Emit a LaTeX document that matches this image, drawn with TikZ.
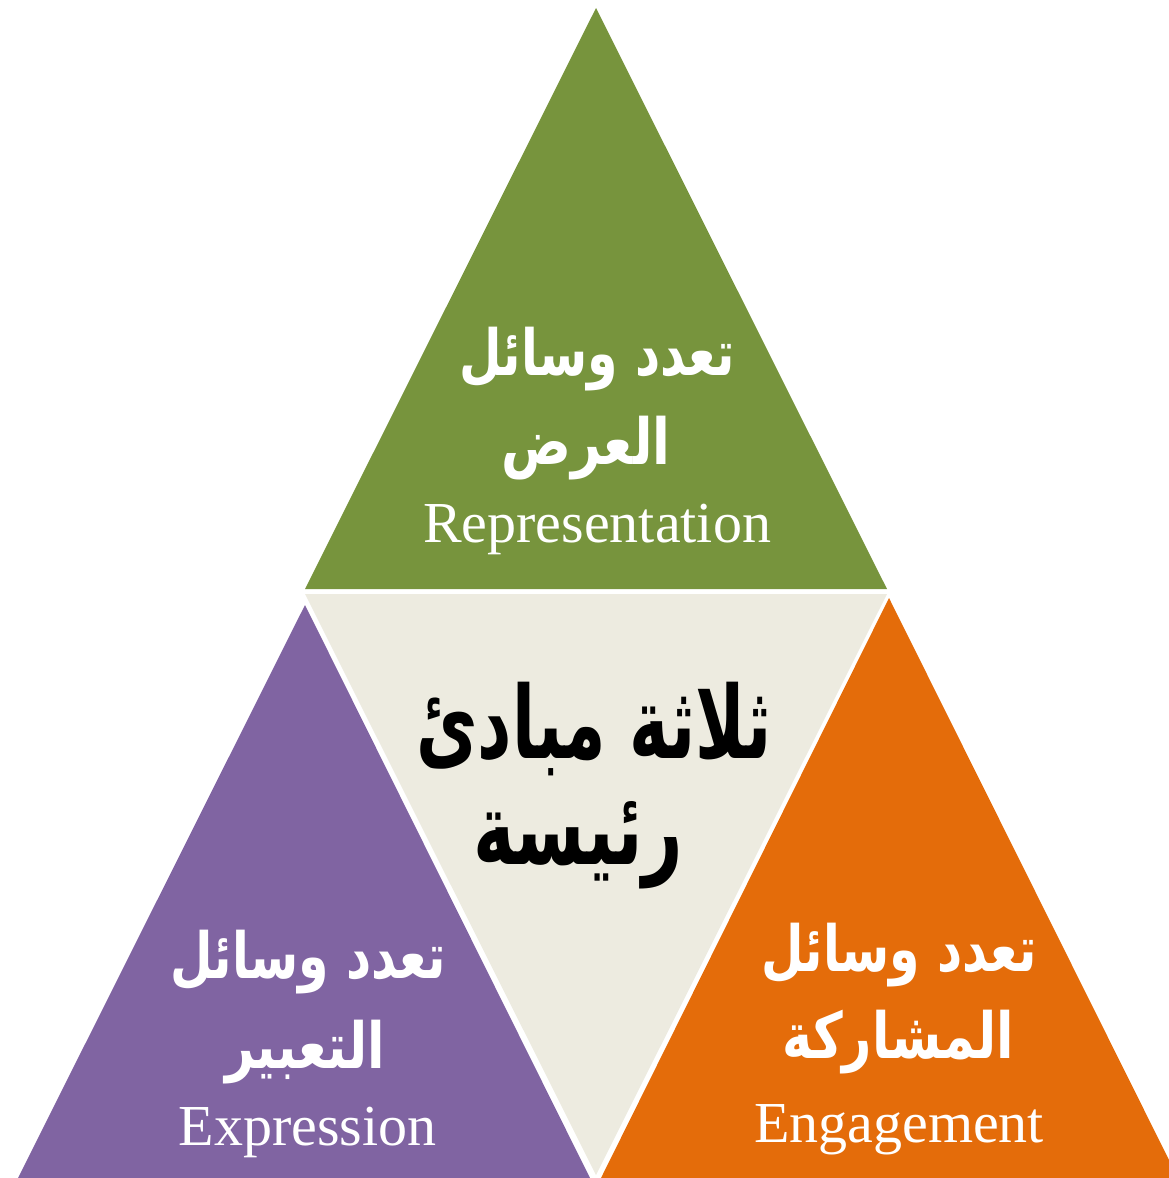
\documentclass[tikz,border=0pt]{standalone}
\usepackage{graphicx}
\usepackage{fontspec}
\setmainfont{Liberation Serif}
\TeXXeTstate=1
\newfontfamily\arabicfont[Script=Arabic]{DejaVu Sans}
\definecolor{cgreen}{RGB}{119,148,61}
\definecolor{cpurple}{RGB}{128,100,162}
\definecolor{corange}{RGB}{228,108,10}
\definecolor{cbeige}{RGB}{237,235,224}
\newcommand{\artxt}[1]{\scalebox{1}[1.3]{\beginR #1\endR}}
\newcommand{\artxtc}[1]{\scalebox{1}[1.5]{\beginR #1\endR}}
\tikzset{
  ar/.style={inner sep=0pt, font=\arabicfont\bfseries\fontsize{49}{52}\selectfont, text=white},
  arc/.style={inner sep=0pt, font=\arabicfont\bfseries\fontsize{67}{70}\selectfont, text=black},
  en/.style={inner sep=0pt, anchor=base, font=\fontsize{58}{62}\selectfont, text=white}
}
\begin{document}
\begin{tikzpicture}[x=1pt,y=-1pt]
\useasboundingbox (0,0) rectangle (1169,1178);
% triangles
\fill[cgreen] (596,8) -- (887,589) -- (305,589) -- cycle;
\fill[cbeige] (305,594) -- (887,594) -- (596,1175) -- cycle;
\fill[cpurple] (305,605) -- (590,1178) -- (18,1178) -- cycle;
\fill[corange] (889,598) -- (1178,1178) -- (601,1178) -- cycle;
% green
\node[ar] (g1) at (597,359) {\artxt{تعدد وسائل}};
\node[ar] (g2) at (586,448) {\scalebox{1.06}[1]{\artxt{العرض}}};
\node[en] (g3) at (597,542) {Representation};
% center
\node[arc] (c1) at (594,729) {\artxtc{ثلاثة مبادئ}};
\node[arc] (c2) at (578,845) {\scalebox{1.05}[1]{\artxtc{رئيسة}}};
% purple
\node[ar] (p1) at (308,962) {\artxt{تعدد وسائل}};
\node[ar] (p2) at (305,1052) {\scalebox{1.04}[1]{\artxt{التعبير}}};
\node[en] (p3) at (307.5,1145) {Expression};
% orange
\node[ar] (o1) at (899,955) {\artxt{تعدد وسائل}};
\node[ar] (o2) at (898,1042) {\scalebox{1.04}[1]{\artxt{المشاركة}}};
\node[en] (o3) at (899,1142) {Engagement};
\end{tikzpicture}
\end{document}
